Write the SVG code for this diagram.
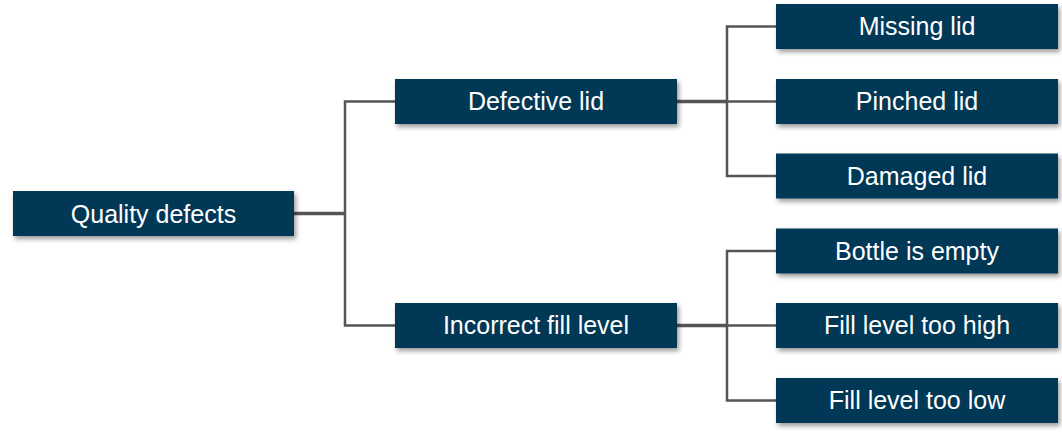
<svg xmlns="http://www.w3.org/2000/svg" width="1062" height="443" viewBox="0 0 1062 443">
<defs>
<filter id="sh" x="-10%" y="-30%" width="120%" height="170%">
<feDropShadow dx="2" dy="3" stdDeviation="2.5" flood-color="#000" flood-opacity="0.4"/>
</filter>
<style>
.box{fill:#023857;filter:url(#sh);}
.lbl{font-family:"Liberation Sans",Arial,sans-serif;font-size:25px;fill:#fff;text-anchor:middle;}
.c{fill:none;stroke:#555;stroke-width:2.5;}
.ct{fill:none;stroke:#555;stroke-width:3.5;}
</style>
</defs>
<rect width="1062" height="443" fill="#fff"/>
<g id="connectors">
<path class="ct" d="M294 213.5H345"/>
<path class="c" d="M395 101.5H345V325.5H395"/>
<path class="ct" d="M677 101.5H727"/>
<path class="c" d="M776 26.5H727V176H776M727 101.5H776"/>
<path class="ct" d="M677 325.5H727"/>
<path class="c" d="M776 251H727V400.5H776M727 325.5H776"/>
</g>
<g id="quality-defects"><rect class="box" x="13" y="191" width="281" height="45"/><text class="lbl" x="153.5" y="222.5">Quality defects</text></g>
<g id="defective-lid"><rect class="box" x="395" y="79" width="282" height="45"/><text class="lbl" x="536" y="110">Defective lid</text></g>
<g id="incorrect-fill-level"><rect class="box" x="395" y="303" width="282" height="45"/><text class="lbl" x="536" y="334">Incorrect fill level</text></g>
<g id="missing-lid"><rect class="box" x="776" y="4" width="282" height="45"/><text class="lbl" x="917" y="35">Missing lid</text></g>
<g id="pinched-lid"><rect class="box" x="776" y="79" width="282" height="45"/><text class="lbl" x="917" y="110">Pinched lid</text></g>
<g id="damaged-lid"><rect class="box" x="776" y="153.5" width="282" height="45"/><text class="lbl" x="917" y="184.5">Damaged lid</text></g>
<g id="bottle-is-empty"><rect class="box" x="776" y="228.5" width="282" height="45"/><text class="lbl" x="917" y="259.5">Bottle is empty</text></g>
<g id="fill-level-too-high"><rect class="box" x="776" y="303" width="282" height="45"/><text class="lbl" x="917" y="334">Fill level too high</text></g>
<g id="fill-level-too-low"><rect class="box" x="776" y="378" width="282" height="45"/><text class="lbl" x="917" y="409">Fill level too low</text></g>
</svg>
